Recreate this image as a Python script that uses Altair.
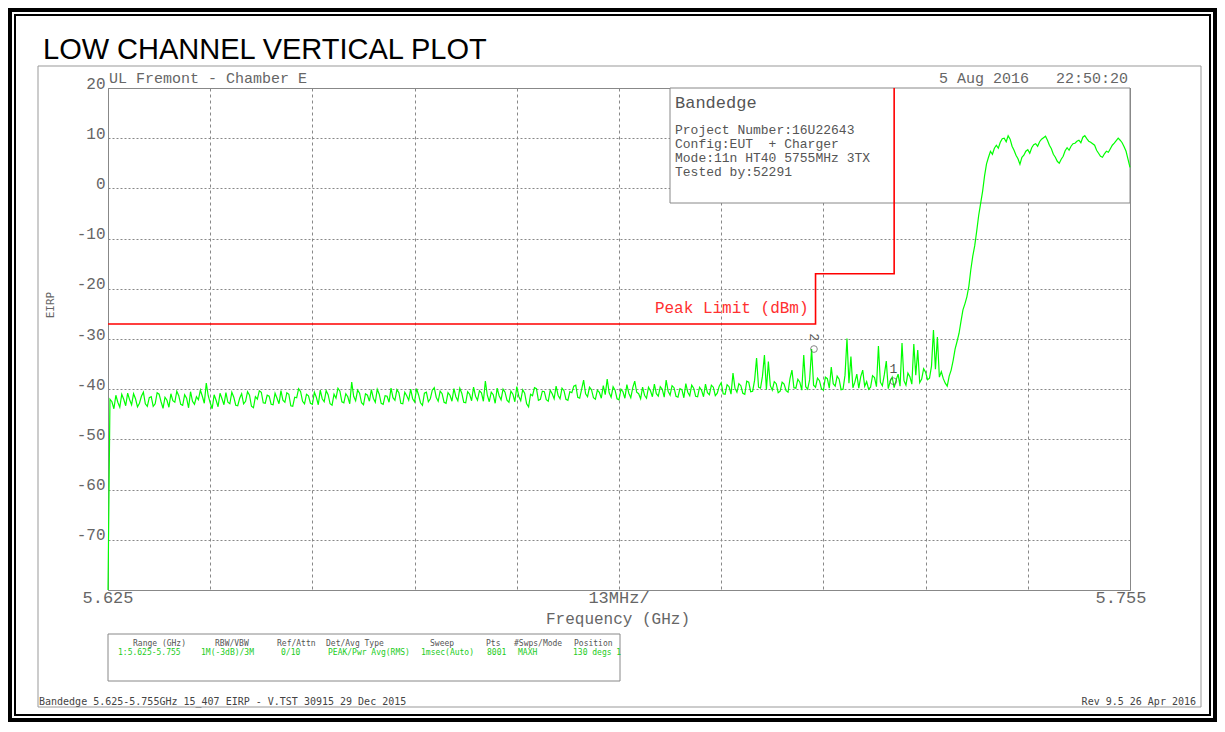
import altair as alt
import pandas as pd

# ---------------- data ----------------
F_START = 5.625
F_STOP = 5.755

# trace level (dBm) at evenly spaced sweep points from 5.625 to 5.755 GHz
levels = [
    -80.0, -42.0,
    -42.5, -43.9, -41.2, -42.6, -43.6, -41.0, -42.0, -43.3, -40.8, -42.1, -43.1, -40.9, -41.9, -43.5, -42.8, -41.4, -40.6, -42.9, -43.4, -41.7,
    -41.5, -43.4, -42.9, -40.7, -41.0, -42.5, -43.8, -41.6, -42.2, -43.6, -40.9, -42.3, -42.6, -40.4, -41.3, -43.0, -43.2, -41.1, -41.8, -43.7,
    -40.5, -42.4, -43.0, -41.5, -42.1, -40.2, -41.4, -42.8, -38.8, -41.3, -42.7, -43.9, -41.1, -42.2, -43.5, -40.8, -41.9, -43.1, -40.7, -42.6,
    -42.9, -40.6, -41.6, -43.2, -43.3, -41.8, -40.9, -42.9, -42.4, -40.5, -41.2, -43.4, -43.7, -41.5, -42.0, -40.3, -40.6, -42.7, -42.8, -41.2,
    -41.4, -43.0, -43.1, -40.8, -41.8, -42.9, -40.3, -42.2, -42.6, -40.7, -41.0, -43.3, -43.4, -41.6, -41.7, -39.9, -40.5, -42.4, -42.9, -41.0,
    -41.3, -42.8, -43.0, -40.6, -41.6, -43.1, -40.2, -41.9, -42.5, -40.3, -41.1, -42.9, -43.2, -41.0, -41.8, -39.8, -40.4, -42.5, -42.7, -40.9,
    -41.5, -42.9, -38.6, -41.4, -42.3, -40.2, -40.8, -42.7, -43.1, -40.9, -41.2, -42.4, -40.1, -41.8, -42.6, -40.0, -41.0, -42.8, -43.0, -41.3,
    -41.4, -42.6, -39.8, -41.7, -42.2, -40.1, -40.7, -42.8, -42.9, -40.6, -41.3, -42.2, -40.0, -41.9, -42.5, -39.9, -41.1, -42.7, -43.2, -40.8,
    -40.6, -42.5, -41.9, -40.2, -39.7, -41.6, -42.4, -40.4, -40.9, -42.6, -42.8, -40.7, -41.2, -42.4, -39.9, -41.5, -42.3, -39.8, -40.8, -42.6,
    -42.7, -40.5, -41.0, -42.3, -39.6, -41.4, -42.2, -40.3, -40.7, -42.4, -38.4, -41.2, -42.5, -40.6, -41.1, -42.8, -39.8, -41.3, -42.1, -40.0,
    -40.6, -42.2, -42.6, -40.4, -41.0, -42.5, -39.5, -41.4, -42.3, -40.1, -40.8, -42.9, -43.5, -41.0, -41.3, -39.7, -39.9, -42.2, -42.0, -40.4,
    -40.5, -42.1, -42.4, -40.2, -40.9, -41.9, -39.4, -41.2, -41.9, -39.8, -40.3, -42.0, -42.2, -40.5, -40.7, -39.4, -39.2, -41.6, -41.8, -40.0,
    -38.2, -40.9, -41.5, -39.6, -40.1, -41.7, -42.0, -40.2, -40.6, -41.8, -39.3, -41.1, -38.0, -40.7, -41.6, -39.5, -40.2, -41.9, -42.1, -40.0,
    -40.5, -41.8, -39.1, -40.8, -41.7, -39.7, -38.4, -40.6, -40.9, -41.9, -39.6, -41.2, -41.8, -39.6, -40.3, -41.5, -39.0, -40.9, -41.4, -39.5,
    -40.0, -41.6, -38.2, -40.4, -41.2, -39.3, -39.7, -41.4, -41.6, -39.9, -40.1, -41.7, -38.9, -40.6, -41.3, -39.2, -39.8, -41.4, -41.5, -39.6,
    -40.2, -41.5, -39.0, -40.7, -41.1, -39.2, -39.6, -41.3, -40.8, -39.4, -38.7, -40.9, -41.0, -39.1, -39.5, -41.0, -36.8, -39.8, -40.6, -38.9,
    -39.3, -40.8, -41.0, -38.4, -38.6, -40.5, -40.4, -38.2, -33.8, -39.6, -39.8, -37.4, -33.2, -40.1, -34.5, -39.3, -40.2, -38.5, -38.9, -40.7,
    -40.4, -38.6, -39.0, -40.3, -40.6, -37.9, -36.2, -39.7, -39.8, -38.0, -38.6, -40.2, -33.2, -39.5, -40.0, -38.1, -32.0, -39.2, -39.6, -37.8,
    -38.3, -39.9, -40.2, -37.6, -37.9, -39.8, -35.6, -38.9, -39.4, -37.4, -38.0, -40.1, -40.0, -37.2, -29.9, -38.8, -33.5, -39.7, -38.6, -37.0,
    -39.8, -37.5, -36.2, -39.4, -38.5, -40.0, -39.6, -37.3, -37.7, -39.5, -31.4, -38.6, -39.3, -37.1, -34.4, -39.9, -38.4, -37.6, -39.7, -38.2,
    -37.0, -39.4, -30.8, -38.3, -39.2, -36.8, -37.5, -39.0, -31.0, -37.2, -32.2, -38.7, -38.0, -35.9, -36.6, -38.1, -37.8, -35.4, -28.2, -36.0,
    -29.6, -37.6, -36.5, -37.9, -38.8, -39.4, -37.4, -36.2, -34.3, -32.0, -30.5, -28.9, -26.5, -24.2, -23.0, -21.6, -19.5, -16.2, -13.5, -11.4,
    -8.5, -5.4, -3.0, -0.6, 2.5, 4.9, 6.2, 7.4, 6.8, 8.0, 8.6, 8.0, 9.2, 9.9, 10.0, 9.3, 10.5, 9.8, 8.4, 7.6,
    6.6, 5.9, 4.8, 6.2, 6.6, 7.4, 7.7, 7.0, 8.1, 8.7, 8.9, 8.4, 9.3, 9.8, 10.1, 10.4, 9.6, 8.6, 7.9, 6.8,
    6.2, 5.4, 5.0, 5.8, 6.4, 7.5, 8.1, 7.6, 8.4, 8.9, 9.0, 9.4, 9.6, 9.1, 10.2, 10.5, 9.9, 9.4, 9.2, 8.9,
    8.6, 7.6, 7.0, 6.4, 6.2, 6.9, 7.4, 7.2, 7.9, 8.6, 9.0, 9.5, 10.0, 9.6, 9.1, 8.3, 7.4, 5.8, 4.2,
]

grid_freqs = [5.625, 5.638, 5.651, 5.664, 5.677, 5.690, 5.703, 5.716, 5.729, 5.742, 5.755]
y_ticks = [-80, -70, -60, -50, -40, -30, -20, -10, 0, 10, 20]

limit_freq = [5.625, 5.715, 5.715, 5.725, 5.725]
limit_level = [-27, -27, -17, -17, 27]
limit_label = "Peak Limit (dBm)"

marker_freq = [5.7249, 5.7148]
marker_level = [-38.4, -32.0]
marker_label = ["1", "2"]

xlabel_freq = [5.625, 5.690]
xlabel_text = ["5.625", "13MHz/"]
xend_freq = [5.755]
xend_text = ["5.755"]

NB = "\u00a0"
title_text = "LOW CHANNEL VERTICAL PLOT"
site_text = "UL Fremont - Chamber E"
date_text = "5 Aug 2016" + NB * 3 + "22:50:20"
box_title = "Bandedge"
info_lines = ["Project Number:16U22643", "Config:EUT" + NB * 2 + "+ Charger",
              "Mode:11n HT40 5755MHz 3TX", "Tested by:52291"]
table_headers = ["Range (GHz)", "RBW/VBW", "Ref/Attn", "Det/Avg Type",
                 "Sweep", "Pts", "#Swps/Mode", "Position"]
table_values = ["1:5.625-5.755", "1M(-3dB)/3M", "0/10", "PEAK/Pwr Avg(RMS)",
                "1msec(Auto)", "8001", "MAXH", "130 degs 1"]
footer_left = "Bandedge 5.625-5.755GHz 15_407 EIRP - V.TST 30915 29 Dec 2015"
footer_right = "Rev 9.5 26 Apr 2016"
x_title = "Frequency (GHz)"
y_title = "EIRP"

# ---------------- layout (pixels, plot-area coordinates) ----------------
W, H = 1022, 502
head_x = [25, 107, 169, 218, 322, 378, 406, 466]
val_x = [10, 93, 173, 220, 313, 379, 410, 465]
info_y = [46, 60, 74, 88]

LM = "Liberation Mono"
DM = "DejaVu Sans Mono"
GRAY = "#666666"

n = len(levels)
step = (F_STOP - F_START) / (n - 1)
trace_df = pd.DataFrame({"freq": [F_START + i * step for i in range(n)], "level": levels})
limit_df = pd.DataFrame({"freq": limit_freq, "level": limit_level, "idx": list(range(len(limit_freq)))})
limlab_df = pd.DataFrame({"freq": [limit_freq[1]], "level": [limit_level[1]], "t": [limit_label]})
marker_df = pd.DataFrame({"freq": marker_freq, "level": marker_level, "label": marker_label})
xlab_df = pd.DataFrame({"freq": xlabel_freq, "t": xlabel_text})
xend_df = pd.DataFrame({"freq": xend_freq, "t": xend_text})
one = pd.DataFrame({"k": [0]})

xscale = alt.Scale(domain=[F_START, F_STOP], nice=False, zero=False)
yscale = alt.Scale(domain=[-80, 20], nice=False, zero=False)
xaxis = alt.Axis(values=grid_freqs, labels=False, ticks=False, domain=False, grid=True,
                 gridColor="#888888", gridDash=[3, 3], gridWidth=1, title=None)
yaxis = alt.Axis(values=y_ticks, labelExpr="datum.value == -80 ? '' : '' + datum.value",
                 ticks=False, tickSize=0, domain=False, grid=True, gridColor="#888888",
                 gridDash=[2, 2], gridWidth=1, labelFont=LM, labelFontSize=16,
                 labelColor=GRAY, labelPadding=3, labelBaseline="alphabetic",
                 labelFlush=False, labelOverlap=False, labelBound=False, title=None)
X = alt.X("freq:Q", scale=xscale, axis=xaxis)
Y = alt.Y("level:Q", scale=yscale, axis=yaxis)


def rect(x, x2, y, y2, stroke, sw, fill=None):
    if fill is None:
        m = alt.Chart(one).mark_rect(filled=False, stroke=stroke, strokeWidth=sw)
    else:
        m = alt.Chart(one).mark_rect(fill=fill, stroke=stroke, strokeWidth=sw)
    return m.encode(x=alt.value(x), x2=alt.value(x2), y=alt.value(y), y2=alt.value(y2))


def txt(s, x, y, size, color, font=LM, align="left", baseline="alphabetic", angle=None):
    kw = dict(text=s, align=align, baseline=baseline, font=font, fontSize=size, color=color)
    if angle is not None:
        kw["angle"] = angle
    return alt.Chart(one).mark_text(**kw).encode(x=alt.value(x), y=alt.value(y))


layers = []
# outer black double border and grey instrument frame
layers.append(rect(-98, 1107, -78, 632, "black", 4))
layers.append(rect(-93, 1102, -73, 627, "black", 2))
layers.append(rect(-70, 1093, -22, 619, "#999999", 1))

# trace carries the axes/grid
trace = alt.Chart(trace_df).mark_line(color="#00ff00", strokeWidth=1.2).encode(x=X, y=Y)

# info box (covers grid)
layers.append(rect(562, W, 0, 115, "#888888", 1, fill="white"))
layers.append(txt(box_title, 567, 20, 17, "#555555"))
for s, yy in zip(info_lines, info_y):
    layers.append(txt(s, 567, yy, 13, "#555555"))

# header texts
layers.append(txt(title_text, -65, -29, 29, "black", font="Liberation Sans"))
layers.append(txt(site_text, 1, -5, 15, GRAY))
layers.append(txt(date_text, 1020, -5, 15, GRAY, align="right"))
layers.append(txt(y_title, -57, 217, 11, GRAY, font=DM, align="center", baseline="middle", angle=270))
layers.append(txt(x_title, 510, 536, 16, GRAY, align="center"))

# x labels through the scale
layers.append(alt.Chart(xlab_df).mark_text(font=LM, fontSize=17, color=GRAY, align="center",
                                            baseline="alphabetic").encode(
    x=X, y=alt.value(515), text="t:N"))
layers.append(alt.Chart(xend_df).mark_text(font=LM, fontSize=17, color=GRAY, align="center",
                                            baseline="alphabetic", dx=-9).encode(
    x=X, y=alt.value(515), text="t:N"))

# settings table
layers.append(rect(0, 512, 546, 593, "#888888", 1))
for s, xx in zip(table_headers, head_x):
    layers.append(txt(s, xx, 558, 8, "#555555", font=DM))
for s, xx in zip(table_values, val_x):
    layers.append(txt(s, xx, 567, 8, "#22cc22", font=DM))

# footer
layers.append(txt(footer_left, -69, 617, 10, "#444444", font=DM))
layers.append(txt(footer_right, 1088, 617, 10, "#444444", font=DM, align="right"))

# limit line and label
layers.append(alt.Chart(limit_df).mark_line(color="#ff0000", strokeWidth=1.6, clip=True).encode(
    x=X, y=Y, order=alt.Order("idx:Q")))
layers.append(alt.Chart(limlab_df).mark_text(font=LM, fontSize=16, color="#ff3030", align="right",
                                              baseline="alphabetic", dx=-7, dy=-11).encode(
    x=X, y=Y, text="t:N"))

layers.append(trace)

# markers
layers.append(alt.Chart(marker_df).mark_point(shape="circle", filled=False, size=45,
                                               color="#555555", strokeWidth=1).encode(x=X, y=Y))
layers.append(alt.Chart(marker_df).transform_filter("datum.label == '1'").mark_text(
    font=LM, fontSize=13, color="#555555", baseline="middle", dy=-12).encode(x=X, y=Y, text="label:N"))
layers.append(alt.Chart(marker_df).transform_filter("datum.label == '2'").mark_text(
    font=LM, fontSize=13, color="#555555", align="center", baseline="middle", dx=-12, angle=90).encode(
    x=X, y=Y, text="label:N"))

chart = alt.layer(*layers).properties(
    width=W, height=H,
    autosize=alt.AutoSizeParams(type="none"),
    padding={"left": 100, "top": 80, "right": 87, "bottom": 132},
    background="white",
).configure_view(stroke="#888888", strokeWidth=1)

chart.save("out.html", embed_options={"renderer": "svg", "actions": False})
